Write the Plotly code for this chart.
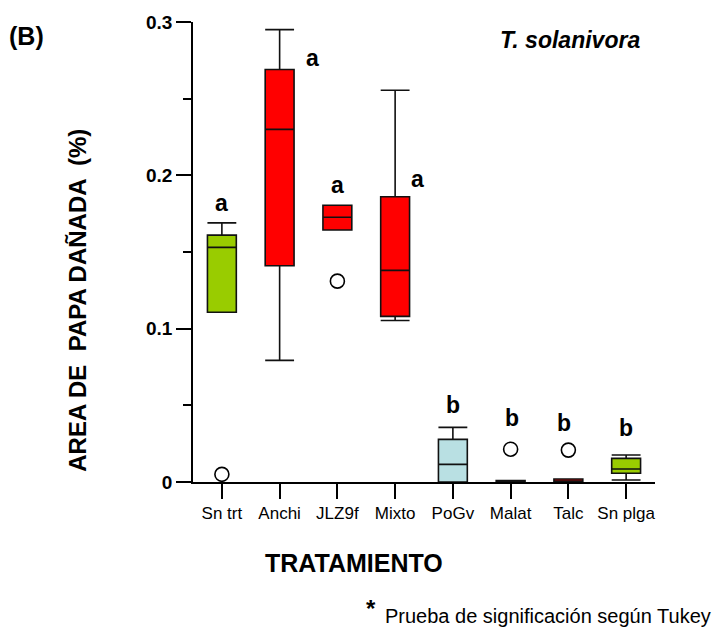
import plotly.graph_objects as go

categories = ["Sn trt", "Anchi", "JLZ9f", "Mixto", "PoGv", "Malat", "Talc", "Sn plga"]
q1 = [0.1107, 0.141, 0.1643, 0.108, 0.0, 0.0, 0.0, 0.0057]
median = [0.153, 0.230, 0.1727, 0.138, 0.0115, 0.0, 0.0, 0.0085]
q3 = [0.161, 0.269, 0.1805, 0.186, 0.0278, 0.0010, 0.0020, 0.0154]
lower = [0.1107, 0.0793, 0.1643, 0.1053, 0.0, 0.0, 0.0, 0.0013]
upper = [0.169, 0.295, 0.1805, 0.2555, 0.0356, 0.0010, 0.0020, 0.0176]
colors = ["#99cc00", "#ff0000", "#ff0000", "#ff0000", "#b9e0e3", "#222222", "#ff0000", "#99cc00"]

outlier_cat = ["Sn trt", "JLZ9f", "Malat", "Talc"]
outlier_val = [0.005, 0.131, 0.0214, 0.0208]

letter_text = ["a", "a", "a", "a", "b", "b", "b", "b"]
letter_x = [0.0, 1.57, 2.0, 3.38, 4.0, 5.03, 5.93, 7.0]
letter_y = [0.182, 0.2765, 0.194, 0.1977, 0.050, 0.0416, 0.0386, 0.0351]

yticks = [0, 0.1, 0.2, 0.3]
yticklabels = ["0", "0.1", "0.2", "0.3"]

FONT = "Liberation Sans, Arial, sans-serif"

fig = go.Figure()
for i, c in enumerate(categories):
    fig.add_trace(go.Box(
        x=[i], q1=[q1[i]], median=[median[i]], q3=[q3[i]],
        lowerfence=[lower[i]], upperfence=[upper[i]],
        fillcolor=colors[i], line=dict(color="#111111", width=1.6),
        width=0.5, whiskerwidth=1, boxpoints=False, showlegend=False,
        hoverinfo="skip",
    ))

fig.add_trace(go.Scatter(
    x=[categories.index(c) for c in outlier_cat], y=outlier_val, mode="markers",
    marker=dict(symbol="circle", size=14, color="white", line=dict(color="black", width=1.6)),
    showlegend=False, cliponaxis=False, hoverinfo="skip",
))

L, R, T, B = 193, 655, 20, 482
W, H = 720, 635


def px(x):
    return (x - L) / (R - L)


def py(y):
    return (B - y) / (B - T)


annotations = []
for t, x, y in zip(letter_text, letter_x, letter_y):
    annotations.append(dict(x=x, y=y, xref="x", yref="y", text="<b>%s</b>" % t,
                            xanchor="center", yanchor="middle",
                            showarrow=False, font=dict(size=23, color="black", family=FONT)))


def paper_note(x, y, text, size, **kw):
    d = dict(x=px(x), y=py(y), xref="paper", yref="paper", text=text, showarrow=False,
             xanchor="center", yanchor="middle", font=dict(size=size, color="black", family=FONT))
    d.update(kw)
    return d


annotations += [
    paper_note(26, 34, "<b>(B)</b>", 25),
    paper_note(570, 38, "<b><i>T. solanivora</i></b>", 23),
    paper_note(78, 300, "<b>AREA DE  PAPA DAÑADA  (%)</b>", 24, textangle=-90),
    paper_note(354, 563, "<b>TRATAMIENTO</b>", 25),
    paper_note(371, 609, "<b>*</b>", 24),
    paper_note(548, 617, "Prueba de significación según Tukey", 20),
]

fig.update_layout(
    width=W, height=H,
    margin=dict(l=L, r=W - R, t=T, b=H - B),
    plot_bgcolor="white", paper_bgcolor="white",
    annotations=annotations,
    font=dict(family=FONT, color="black"),
    xaxis=dict(
        range=[-0.5, 7.5], tickvals=list(range(len(categories))), ticktext=categories,
        showline=True, linecolor="black", linewidth=1.5, ticks="outside", ticklen=15,
        tickwidth=1.5, tickcolor="black", showgrid=False, zeroline=False,
        tickfont=dict(size=17, family=FONT, color="black"),
    ),
    yaxis=dict(
        range=[0, 0.3], tickvals=yticks, ticktext=yticklabels,
        showline=True, linecolor="black", linewidth=1.5, ticks="outside", ticklen=15,
        tickwidth=1.5, tickcolor="black", showgrid=False, zeroline=False,
        tickfont=dict(size=19, family=FONT, color="black", weight="bold"),
        minor=dict(tickvals=[0.05, 0.15, 0.25], ticks="outside", ticklen=8,
                   tickwidth=1.5, tickcolor="black", showgrid=False),
    ),
)

fig.write_html("out.html")
